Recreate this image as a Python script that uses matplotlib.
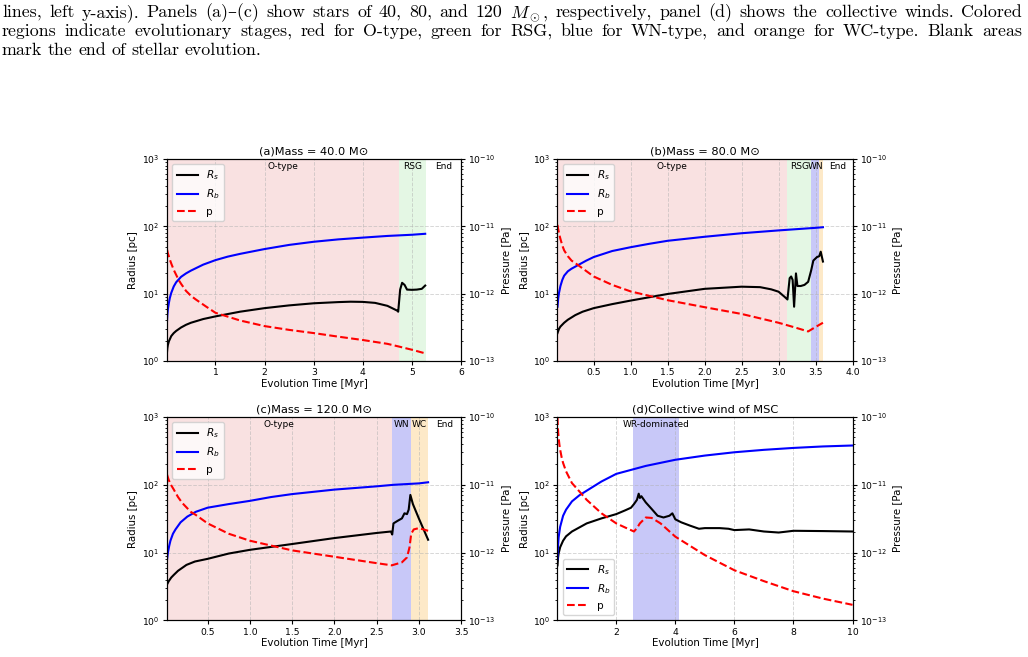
import numpy as np
import matplotlib.pyplot as plt
import matplotlib.transforms as mtransforms

'''
Bubble radius / shell radius / pressure vs. evolution time for single stars
and the collective wind of the cluster (4 panels).
'''

# ---- panel (a): 40 Msun ----
a_tb = [0.014, 0.02, 0.03, 0.05, 0.07, 0.1, 0.15, 0.2, 0.3, 0.4, 0.5, 0.75, 1.0, 1.25, 1.5,
        2.0, 2.5, 3.0, 3.5, 4.0, 4.5, 5.0, 5.27]
a_Rb = [4.0, 4.8, 5.8, 7.2, 8.6, 10.3, 12.8, 14.8, 17.8, 20, 22, 27, 31.5, 35.5, 39,
        46, 53, 59, 64, 68, 72, 75, 77.5]
a_ts = [0.014, 0.02, 0.03, 0.05, 0.1, 0.15, 0.2, 0.3, 0.4, 0.5, 0.75, 1.0, 1.5, 2.0, 2.5, 3.0,
        3.5, 3.75, 4.0, 4.25, 4.5, 4.7, 4.72, 4.76, 4.80, 4.85, 4.9, 5.0, 5.1, 5.2, 5.27]
a_Rs = [1.38, 1.55, 1.72, 1.95, 2.35, 2.6, 2.8, 3.15, 3.45, 3.7, 4.2, 4.6, 5.4, 6.1, 6.7, 7.2,
        7.5, 7.6, 7.55, 7.3, 6.6, 5.6, 5.4, 11.5, 14.5, 13.5, 11.5, 11.4, 11.5, 11.8, 13.2]
a_tp = [0.014, 0.03, 0.05, 0.075, 0.1, 0.15, 0.2, 0.25, 0.3, 0.4, 0.5, 0.6, 0.8, 1.0, 1.5, 2.0,
        2.5, 3.0, 3.5, 4.0, 4.5, 4.72, 5.0, 5.27]
a_p = [4.5e-12, 4.0e-12, 3.6e-12, 3.15e-12, 2.8e-12, 2.26e-12, 1.9e-12, 1.6e-12, 1.4e-12,
       1.1e-12, 9.3e-13, 8.2e-13, 6.5e-13, 5.2e-13, 4.0e-13, 3.3e-13, 2.9e-13, 2.6e-13, 2.3e-13,
       2.05e-13, 1.8e-13, 1.65e-13, 1.47e-13, 1.3e-13]

# ---- panel (b): 80 Msun ----
b_tb = [0.01, 0.02, 0.03, 0.05, 0.075, 0.1, 0.15, 0.2, 0.3, 0.4, 0.5, 0.75, 1.0, 1.25, 1.5,
        2.0, 2.5, 3.0, 3.5, 3.6]
b_Rb = [6.4, 8.5, 10.2, 13, 16, 18.5, 21.5, 23.5, 27, 31, 35, 43, 49, 55, 61,
        70, 79, 87, 95, 97]
b_ts = [0.01, 0.03, 0.05, 0.1, 0.15, 0.25, 0.35, 0.5, 0.75, 1.0, 1.5, 2.0, 2.5, 2.75, 2.9,
        3.0, 3.08, 3.12, 3.15, 3.17, 3.19, 3.21, 3.235, 3.255, 3.3, 3.35, 3.4, 3.44, 3.47, 3.52,
        3.55, 3.57, 3.6]
b_Rs = [2.6, 3.0, 3.25, 3.7, 4.1, 4.8, 5.4, 6.1, 7.0, 7.9, 9.9, 11.8, 12.7, 12.5, 11.6,
        10.7, 9.0, 8.2, 17, 18, 16, 6.4, 20, 13, 13, 13.5, 15, 22, 31, 35,
        36, 42, 30]
b_tp = [0.01, 0.02, 0.035, 0.05, 0.075, 0.1, 0.15, 0.2, 0.3, 0.5, 0.75, 1.0, 1.5, 2.0, 2.5,
        3.0, 3.2, 3.4, 3.5, 3.6]
b_p = [1.05e-11, 9.0e-12, 7.5e-12, 6.5e-12, 5.2e-12, 4.4e-12, 3.6e-12, 3.1e-12, 2.6e-12,
       1.8e-12, 1.35e-12, 1.08e-12, 8.0e-13, 6.3e-13, 5.0e-13, 3.7e-13, 3.2e-13, 2.75e-13,
       3.2e-13, 3.7e-13]

# ---- panel (c): 120 Msun ----
c_tb = [0.02, 0.03, 0.045, 0.06, 0.09, 0.12, 0.18, 0.26, 0.36, 0.5, 0.75, 1.0, 1.25, 1.5,
        2.0, 2.5, 2.7, 3.0, 3.11]
c_Rb = [7.9, 10, 12.5, 15, 19, 22, 28, 34, 40, 46, 52, 58, 66, 73,
        85, 95, 100, 105, 109]
c_ts = [0.02, 0.04, 0.07, 0.1, 0.15, 0.25, 0.35, 0.5, 0.75, 1.0, 1.5, 2.0, 2.5, 2.67, 2.685,
        2.70, 2.75, 2.8, 2.83, 2.86, 2.88, 2.90, 2.93, 3.0, 3.05, 3.11]
c_Rs = [3.4, 3.8, 4.3, 4.7, 5.4, 6.6, 7.4, 8.1, 9.7, 11, 13.4, 16.4, 19.5, 20.5, 18.5,
        27, 29.5, 32, 38, 37, 43, 71, 52, 32, 23, 15.5]
c_tp = [0.02, 0.04, 0.06, 0.1, 0.15, 0.2, 0.3, 0.36, 0.5, 0.75, 1.0, 1.5, 2.0, 2.5, 2.68,
        2.8, 2.86, 2.89, 2.91, 2.94, 3.0, 3.11]
c_p = [1.41e-11, 1.18e-11, 1.03e-11, 8.5e-12, 6.6e-12, 5.4e-12, 4.0e-12, 3.6e-12, 2.7e-12,
       1.9e-12, 1.5e-12, 1.08e-12, 8.7e-13, 7.0e-13, 6.5e-13, 7.2e-13, 8.5e-13, 1.2e-12,
       1.9e-12, 2.2e-12, 2.3e-12, 2.1e-12]

# ---- panel (d): collective wind ----
d_tb = [0.01, 0.02, 0.05, 0.1, 0.2, 0.3, 0.5, 0.75, 1, 1.5, 2, 3, 4, 5, 6, 7, 8, 9, 10]
d_Rb = [8, 11, 17, 24, 35, 43, 57, 70, 82, 112, 145, 190, 234, 270, 302, 328, 350, 368, 380]
d_ts = [0.01, 0.03, 0.05, 0.1, 0.2, 0.3, 0.5, 1, 1.5, 2, 2.3, 2.5, 2.6, 2.7, 2.76, 2.8, 2.85,
        3.0, 3.2, 3.4, 3.6, 3.8, 3.9, 4.0, 4.2, 4.5, 4.8, 5.0, 5.5, 5.8, 6.0, 6.5, 7.0, 7.5,
        7.8, 8.0, 9.0, 10]
d_Rs = [6.5, 8.5, 9.8, 12, 15, 17.4, 20.5, 27, 32, 37, 42, 46, 52, 60, 74, 64, 68,
        55, 44, 35, 33, 35, 38, 31, 28, 25, 22.5, 23, 23, 22.5, 21.5, 22, 20.5, 19.8,
        20.5, 21, 20.8, 20.5]
d_tp = [0.01, 0.02, 0.035, 0.05, 0.075, 0.1, 0.15, 0.2, 0.3, 0.5, 0.75, 1, 1.5, 2, 2.3, 2.6,
        2.7, 2.8, 3.0, 3.2, 3.5, 4, 5, 6, 7, 8, 9, 10]
d_p = [9.9e-11, 7.5e-11, 5.8e-11, 4.9e-11, 3.9e-11, 3.3e-11, 2.55e-11, 2.1e-11, 1.58e-11,
       1.06e-11, 8.0e-12, 6.0e-12, 3.8e-12, 2.7e-12, 2.35e-12, 2.05e-12, 2.3e-12, 2.7e-12,
       3.3e-12, 3.25e-12, 2.7e-12, 1.72e-12, 9.2e-13, 5.5e-13, 3.8e-13, 2.7e-13, 2.1e-13, 1.7e-13]

# evolutionary stages (start, end, label, colour)
a_stages = [(0, 4.73, 'O-type', '#f9e1e1'), (4.73, 5.28, 'RSG', '#e4f7e4'), (5.28, 6.0, 'End', None)]
b_stages = [(0, 3.12, 'O-type', '#f9e1e1'), (3.12, 3.44, 'RSG', '#e4f7e4'), (3.44, 3.55, 'WN', '#c8c8f8'),
            (3.55, 3.6, '', '#fde9c8'), (3.6, 4.0, 'End', None)]
c_stages = [(0, 2.68, 'O-type', '#f9e1e1'), (2.68, 2.91, 'WN', '#c8c8f8'), (2.91, 3.11, 'WC', '#fde9c8'),
            (3.11, 3.5, 'End', None)]
d_stages = [(2.58, 4.11, 'WR-dominated', '#c8c8f8')]

W, H = 1028, 657
fs = 7.4

# figure was produced at a larger size and shrunk, so scale tick geometry down
plt.rcParams.update({
    'xtick.major.size': 2.6, 'ytick.major.size': 2.6,
    'xtick.minor.size': 1.5, 'ytick.minor.size': 1.5,
    'xtick.major.pad': 2.6, 'ytick.major.pad': 2.6,
    'axes.labelpad': 3.0,
})

fig = plt.figure(figsize=(W / 100, H / 100), dpi=100)


def panel(rect, title, tb, Rb, ts, Rs, tp, p, stages, xlim, loc, lx, px):
    ax = fig.add_axes(rect)
    for s in stages:
        if s[3] is not None:
            ax.axvspan(s[0], s[1], color=s[3], lw=0)
        if s[2]:
            tr = mtransforms.blended_transform_factory(ax.transData, ax.transAxes)
            ax.text((s[0] + s[1]) / 2, 0.985, s[2], transform=tr, ha='center', va='top', fontsize=6.5)
    l1, = ax.plot(ts, Rs, color='black', lw=1.5, label='$R_s$')
    l2, = ax.plot(tb, Rb, color='blue', lw=1.5, label='$R_b$')
    ax.set_yscale('log')
    ax.set_ylim(1, 1e3)
    ax.set_xlim(xlim)
    ax.grid(True, ls='--', color='#b0b0b0', alpha=0.5, lw=0.7)
    ax.set_ylabel('Radius [pc]', fontsize=fs)
    ax.yaxis.set_label_coords(lx, 0.5)
    ax.set_xlabel('Evolution Time [Myr]', fontsize=fs, labelpad=1)
    ax.set_title(title, fontsize=8.2, pad=3)
    ax.tick_params(labelsize=6.7)
    ax.xaxis.offsetText.set_visible(False)

    ax2 = ax.twinx()
    l3, = ax2.plot(tp, p, color='red', ls='--', lw=1.5, label='p')
    ax2.set_yscale('log')
    ax2.set_ylim(1e-13, 1e-10)
    ax2.set_ylabel('Pressure [Pa]', fontsize=fs)
    ax2.yaxis.set_label_coords(px, 0.5)
    ax2.tick_params(labelsize=6.7)
    ax2.xaxis.offsetText.set_visible(False)
    ax2.legend(handles=[l1, l2, l3], loc=loc, fontsize=7.6)
    return ax


panel([0.1625, 0.4505, 0.2860, 0.3075], '(a)Mass = 40.0 M\u2299', a_tb, a_Rb, a_ts, a_Rs, a_tp, a_p,
      a_stages, (0.014, 6), 'upper left', -0.100, 1.135)
panel([0.5423, 0.4505, 0.2870, 0.3075], '(b)Mass = 80.0 M\u2299', b_tb, b_Rb, b_ts, b_Rs, b_tp, b_p,
      b_stages, (0.01, 4.0), 'upper left', -0.092, 1.135)
panel([0.1625, 0.0556, 0.2860, 0.3097], '(c)Mass = 120.0 M\u2299', c_tb, c_Rb, c_ts, c_Rs, c_tp, c_p,
      c_stages, (0.02, 3.5), 'upper left', -0.100, 1.135)
panel([0.5423, 0.0556, 0.2870, 0.3097], '(d)Collective wind of MSC', d_tb, d_Rb, d_ts, d_Rs, d_tp, d_p,
      d_stages, (0.01, 10), 'lower left', -0.092, 1.135)

# ---- caption text above the figure (justified lines) ----
caption = [
    'lines, left y-axis). Panels (a)\u2013(c) show stars of 40, 80, and 120 $M_\\odot$, respectively, panel (d) shows the collective winds. Colored',
    'regions indicate evolutionary stages, red for O-type, green for RSG, blue for WN-type, and orange for WC-type. Blank areas',
    'mark the end of stellar evolution.',
]
cap_kw = dict(fontsize=12.9, family=['cmr10', 'DejaVu Serif'], math_fontfamily='cm',
              va='baseline', ha='left')
renderer = fig.canvas.get_renderer()
for i, line in enumerate(caption):
    y = 1 - (17 + 19 * i) / H
    words = line.split(' ')
    arts = [fig.text(0, y, w, **cap_kw) for w in words]
    widths = [a.get_window_extent(renderer).width for a in arts]
    if i < 2:
        gap = (1022 - 2 - sum(widths)) / (len(words) - 1)
    else:
        gap = 5.5
    x = 2
    for a, w in zip(arts, widths):
        a.set_x(x / W)
        x += w + gap

fig.savefig('out.png', dpi=100)
